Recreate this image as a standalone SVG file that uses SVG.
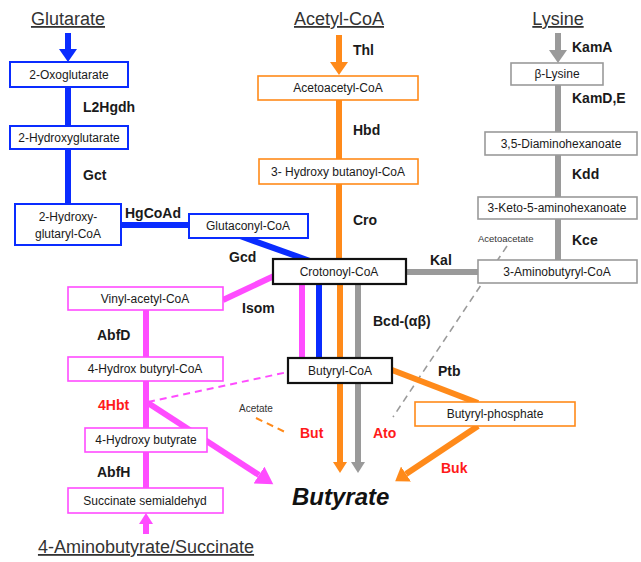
<svg xmlns="http://www.w3.org/2000/svg" width="641" height="562" viewBox="0 0 641 562">
<style>
text{font-family:"Liberation Sans",Arial,sans-serif;fill:#1a1a1a}
.bx{font-size:12px;text-anchor:middle}
.en{font-size:14px;font-weight:bold}
.rd{font-size:14px;font-weight:bold;fill:#ff1a1a}
.ti{font-size:18px;text-anchor:middle;text-decoration:underline;fill:#333}
.sm{font-size:10px;fill:#333}
.b{fill:#fff;stroke:#0a2cff;stroke-width:2}
.o{fill:#fff;stroke:#ff8a1a;stroke-width:1.6}
.g{fill:#fff;stroke:#9a9a9a;stroke-width:1.6}
.m{fill:#fff;stroke:#ff4cff;stroke-width:1.6}
.k{fill:#fff;stroke:#111;stroke-width:2.2}
.lb{stroke:#0a2cff;stroke-width:6;fill:none}
.lo{stroke:#ff8a1a;stroke-width:6;fill:none}
.lg{stroke:#9a9a9a;stroke-width:6;fill:none}
.lm{stroke:#ff4cff;stroke-width:6;fill:none}
</style>
<defs>
<marker id="ab" markerUnits="userSpaceOnUse" markerWidth="14" markerHeight="18" refX="0" refY="9" orient="auto"><path d="M0,0 L13,9 L0,18z" fill="#0a2cff"/></marker>
<marker id="ao" markerUnits="userSpaceOnUse" markerWidth="14" markerHeight="18" refX="0" refY="9" orient="auto"><path d="M0,0 L13,9 L0,18z" fill="#ff8a1a"/></marker>
<marker id="ag" markerUnits="userSpaceOnUse" markerWidth="14" markerHeight="18" refX="0" refY="9" orient="auto"><path d="M0,0 L13,9 L0,18z" fill="#9a9a9a"/></marker>
<marker id="aos" markerUnits="userSpaceOnUse" markerWidth="12" markerHeight="14" refX="0" refY="7" orient="auto"><path d="M0,0 L11,7 L0,14z" fill="#ff8a1a"/></marker>
<marker id="ags" markerUnits="userSpaceOnUse" markerWidth="12" markerHeight="14" refX="0" refY="7" orient="auto"><path d="M0,0 L11,7 L0,14z" fill="#9a9a9a"/></marker>
<marker id="am" markerUnits="userSpaceOnUse" markerWidth="18" markerHeight="20" refX="0" refY="10" orient="auto"><path d="M0,0 L17,10 L0,20z" fill="#ff4cff"/></marker>
<marker id="ams" markerUnits="userSpaceOnUse" markerWidth="12" markerHeight="14" refX="0" refY="7" orient="auto"><path d="M0,0 L11,7 L0,14z" fill="#ff4cff"/></marker>
</defs>

<g id="connectors">
<!-- dashed -->
<line x1="507" y1="246" x2="393" y2="417" stroke="#9a9a9a" stroke-width="1.6" stroke-dasharray="7,5"/>
<line x1="148" y1="402" x2="288" y2="372" stroke="#ff4cff" stroke-width="2" stroke-dasharray="7,5"/>
<line x1="256" y1="418" x2="285" y2="432" stroke="#ff8a1a" stroke-width="2" stroke-dasharray="7,5"/>
<!-- blue -->
<line class="lb" x1="68" y1="33" x2="68" y2="49" marker-end="url(#ab)"/>
<line class="lb" x1="68" y1="87" x2="68" y2="126"/>
<line class="lb" x1="68" y1="149" x2="68" y2="204"/>
<line class="lb" x1="121" y1="225" x2="189" y2="225"/>
<line class="lb" x1="240" y1="236" x2="310" y2="261"/>
<line class="lb" x1="319" y1="284" x2="319" y2="358"/>
<!-- orange -->
<line class="lo" x1="339" y1="35" x2="339" y2="62" marker-end="url(#ao)"/>
<line class="lo" x1="339" y1="100" x2="339" y2="159"/>
<line class="lo" x1="339" y1="184" x2="339" y2="259"/>
<line class="lo" x1="340" y1="284" x2="340" y2="358"/>
<line class="lo" x1="340" y1="383" x2="340" y2="462" marker-end="url(#aos)"/>
<line class="lo" x1="392" y1="370" x2="478" y2="403"/>
<line class="lo" x1="478" y1="426" x2="406" y2="474" marker-end="url(#ao)"/>
<!-- grey -->
<line class="lg" x1="558" y1="33" x2="558" y2="50" marker-end="url(#ag)"/>
<line class="lg" x1="558" y1="85" x2="558" y2="132"/>
<line class="lg" x1="558" y1="155" x2="558" y2="197"/>
<line class="lg" x1="558" y1="219" x2="558" y2="260"/>
<line class="lg" x1="406" y1="272" x2="478" y2="272"/>
<line class="lg" x1="358" y1="284" x2="358" y2="358"/>
<line class="lg" x1="358" y1="383" x2="358" y2="462" marker-end="url(#ags)"/>
<!-- magenta -->
<line class="lm" x1="223" y1="300" x2="274" y2="276"/>
<line class="lm" x1="302" y1="284" x2="302" y2="358"/>
<line class="lm" x1="146" y1="310" x2="146" y2="357"/>
<line class="lm" x1="146" y1="381" x2="146" y2="428"/>
<line class="lm" x1="146" y1="452" x2="146" y2="488"/>
<line class="lm" x1="148" y1="403" x2="259" y2="475" marker-end="url(#am)"/>
<line class="lm" x1="146" y1="534" x2="146" y2="524" marker-end="url(#ams)"/>
</g>

<g id="titles">
<text class="ti" x="68" y="25">Glutarate</text>
<text class="ti" x="339" y="25">Acetyl-CoA</text>
<text class="ti" x="558" y="25">Lysine</text>
<text class="ti" x="146" y="553">4-Aminobutyrate/Succinate</text>
</g>

<g id="n_oxoglutarate"><rect class="b" x="10" y="62" width="118" height="25"/><text class="bx" x="69" y="79">2-Oxoglutarate</text></g>
<g id="n_hydroxyglutarate"><rect class="b" x="10" y="126" width="118" height="23"/><text class="bx" x="69" y="142">2-Hydroxyglutarate</text></g>
<g id="n_hydroxyglutarylcoa"><rect class="b" x="15" y="204" width="106" height="41"/><text class="bx" x="68" y="221">2-Hydroxy-</text><text class="bx" x="68" y="238">glutaryl-CoA</text></g>
<g id="n_glutaconylcoa"><rect class="b" x="189" y="214" width="119" height="24"/><text class="bx" x="248" y="230">Glutaconyl-CoA</text></g>

<g id="n_acetoacetylcoa"><rect class="o" x="258" y="76" width="160" height="24"/><text class="bx" x="338" y="92">Acetoacetyl-CoA</text></g>
<g id="n_hydroxybutanoylcoa"><rect class="o" x="259" y="159" width="159" height="25"/><text class="bx" x="338" y="176">3- Hydroxy butanoyl-CoA</text></g>
<g id="n_butyrylphosphate"><rect class="o" x="415" y="402" width="160" height="24"/><text class="bx" x="495" y="418">Butyryl-phosphate</text></g>

<g id="n_blysine"><rect class="g" x="511" y="63" width="92" height="22"/><text class="bx" x="557" y="78">β-Lysine</text></g>
<g id="n_diaminohexanoate"><rect class="g" x="485" y="132" width="152" height="23"/><text class="bx" x="561" y="148">3,5-Diaminohexanoate</text></g>
<g id="n_ketoaminohexanoate"><rect class="g" x="478" y="197" width="159" height="22"/><text class="bx" x="557" y="212">3-Keto-5-aminohexanoate</text></g>
<g id="n_aminobutyrylcoa"><rect class="g" x="478" y="260" width="159" height="23"/><text class="bx" x="557" y="276">3-Aminobutyryl-CoA</text></g>

<g id="n_crotonoylcoa"><rect class="k" x="273" y="259" width="133" height="25"/><text class="bx" x="339" y="276">Crotonoyl-CoA</text></g>
<g id="n_butyrylcoa"><rect class="k" x="288" y="358" width="104" height="25"/><text class="bx" x="340" y="375">Butyryl-CoA</text></g>

<g id="n_vinylacetylcoa"><rect class="m" x="68" y="287" width="155" height="23"/><text class="bx" x="145" y="303">Vinyl-acetyl-CoA</text></g>
<g id="n_hydroxbutyrylcoa"><rect class="m" x="68" y="357" width="155" height="24"/><text class="bx" x="145" y="373">4-Hydrox butyryl-CoA</text></g>
<g id="n_hydroxybutyrate"><rect class="m" x="85" y="428" width="122" height="24"/><text class="bx" x="146" y="444">4-Hydroxy butyrate</text></g>
<g id="n_succinatesemialdehyd"><rect class="m" x="68" y="488" width="155" height="25"/><text class="bx" x="145" y="505">Succinate semialdehyd</text></g>

<g id="n_butyrate"><text x="292" y="505" style="font-size:24px;font-weight:bold;font-style:italic;fill:#111">Butyrate</text></g>

<g id="labels">
<text class="en" x="83" y="112">L2Hgdh</text>
<text class="en" x="83" y="180">Gct</text>
<text class="en" x="125" y="218">HgCoAd</text>
<text class="en" x="229" y="262">Gcd</text>
<text class="en" x="353" y="55">Thl</text>
<text class="en" x="353" y="135">Hbd</text>
<text class="en" x="353" y="225">Cro</text>
<text class="en" x="572" y="52">KamA</text>
<text class="en" x="572" y="103">KamD,E</text>
<text class="en" x="572" y="179">Kdd</text>
<text class="en" x="572" y="245">Kce</text>
<text class="en" x="430" y="265">Kal</text>
<text class="en" x="242" y="313">Isom</text>
<text class="en" x="373" y="326">Bcd-(αβ)</text>
<text class="en" x="438" y="376">Ptb</text>
<text class="en" x="97" y="340">AbfD</text>
<text class="en" x="97" y="477">AbfH</text>
<text class="rd" x="98" y="410">4Hbt</text>
<text class="rd" x="300" y="438">But</text>
<text class="rd" x="373" y="438">Ato</text>
<text class="rd" x="441" y="473">Buk</text>
<text class="sm" x="478" y="242" style="font-size:9.5px">Acetoacetate</text>
<text class="sm" x="239" y="412">Acetate</text>
</g>
</svg>
